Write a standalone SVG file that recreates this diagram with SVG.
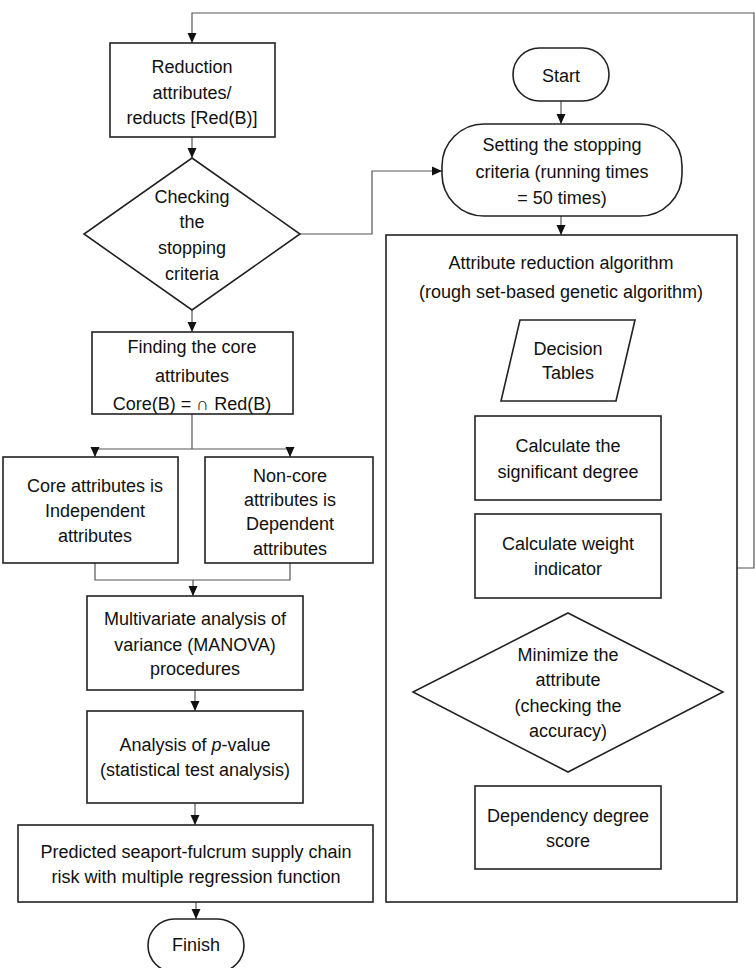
<svg xmlns="http://www.w3.org/2000/svg" width="755" height="968" viewBox="0 0 755 968">
<style>
.s{fill:#fff;stroke:#222;stroke-width:1.6}
.c{fill:none;stroke:#555;stroke-width:1.2}
text{font-family:"Liberation Sans",Arial,sans-serif;font-size:18px;fill:#111;text-anchor:middle;dominant-baseline:central}
</style>
<defs>
<marker id="ah" markerUnits="userSpaceOnUse" markerWidth="10" markerHeight="10" refX="10" refY="5" orient="auto">
<path d="M0,0.5 L10,5 L0,9.5 z" fill="#111"/>
</marker>
</defs>
<rect width="755" height="968" fill="#fff"/>
<g id="connectors">
<path class="c" d="M737,568 H754 V13 H192 V43" marker-end="url(#ah)"/>
<path class="c" d="M192,137 V158" marker-end="url(#ah)"/>
<path class="c" d="M300,234 H372 V171 H442" marker-end="url(#ah)"/>
<path class="c" d="M561,101 V124" marker-end="url(#ah)"/>
<path class="c" d="M561,216 V235" marker-end="url(#ah)"/>
<path class="c" d="M568,401 V416" marker-end="url(#ah)"/>
<path class="c" d="M568,500 V514" marker-end="url(#ah)"/>
<path class="c" d="M568,598 V613" marker-end="url(#ah)"/>
<path class="c" d="M413,692 H402 V458 H475" marker-end="url(#ah)"/>
<path class="c" d="M568,772 V786" marker-end="url(#ah)"/>
<path class="c" d="M192,310 V332" marker-end="url(#ah)"/>
<path class="c" d="M192,414 V449 M95,449 H290"/>
<path class="c" d="M95,449 V457" marker-end="url(#ah)"/>
<path class="c" d="M290,449 V457" marker-end="url(#ah)"/>
<path class="c" d="M95,563 V580 H290 V563"/>
<path class="c" d="M193,580 V596" marker-end="url(#ah)"/>
<path class="c" d="M195,690 V711" marker-end="url(#ah)"/>
<path class="c" d="M195,803 V825" marker-end="url(#ah)"/>
<path class="c" d="M196,902 V919" marker-end="url(#ah)"/>
</g>
<g id="reduction">
<rect class="s" x="110" y="43" width="165" height="94"/>
<text x="192" y="67">Reduction</text>
<text x="192" y="93">attributes/</text>
<text x="192" y="118">reducts [Red(B)]</text>
</g>
<g id="check-stop">
<polygon class="s" points="192,158 300,234 192,310 84,234"/>
<text x="192" y="197">Checking</text>
<text x="192" y="222">the</text>
<text x="192" y="248">stopping</text>
<text x="192" y="274">criteria</text>
</g>
<g id="start">
<rect class="s" x="513" y="48" width="96" height="53" rx="26.5"/>
<text x="561" y="76">Start</text>
</g>
<g id="setting">
<rect class="s" x="442" y="124" width="240" height="92" rx="42"/>
<text x="562" y="145">Setting the stopping</text>
<text x="562" y="172">criteria (running times</text>
<text x="562" y="198">= 50 times)</text>
</g>
<g id="algorithm">
<rect class="s" x="386" y="235" width="351" height="667"/>
<text x="561" y="263">Attribute reduction algorithm</text>
<text x="561" y="292">(rough set-based genetic algorithm)</text>
</g>
<g id="decision-tables">
<polygon class="s" points="520,320 635,320 616,401 501,401"/>
<text x="568" y="349">Decision</text>
<text x="568" y="373">Tables</text>
</g>
<g id="calc-sig">
<rect class="s" x="475" y="416" width="186" height="84"/>
<text x="568" y="446">Calculate the</text>
<text x="568" y="472">significant degree</text>
</g>
<g id="calc-weight">
<rect class="s" x="475" y="514" width="186" height="84"/>
<text x="568" y="544">Calculate weight</text>
<text x="568" y="569">indicator</text>
</g>
<g id="minimize">
<polygon class="s" points="568,613 723,692 568,772 413,692"/>
<text x="568" y="655">Minimize the</text>
<text x="568" y="680">attribute</text>
<text x="568" y="706">(checking the</text>
<text x="568" y="731">accuracy)</text>
</g>
<g id="dependency">
<rect class="s" x="475" y="786" width="186" height="83"/>
<text x="568" y="816">Dependency degree</text>
<text x="568" y="841">score</text>
</g>
<g id="finding-core">
<rect class="s" x="92" y="332" width="201" height="82"/>
<text x="192" y="347">Finding the core</text>
<text x="192" y="376">attributes</text>
<text x="192" y="404">Core(B) = ∩ Red(B)</text>
</g>
<g id="core-independent">
<rect class="s" x="3" y="457" width="175" height="106"/>
<text x="95" y="486">Core attributes is</text>
<text x="95" y="511">Independent</text>
<text x="95" y="536">attributes</text>
</g>
<g id="noncore-dependent">
<rect class="s" x="205" y="457" width="168" height="106"/>
<text x="290" y="476">Non-core</text>
<text x="290" y="500">attributes is</text>
<text x="290" y="524">Dependent</text>
<text x="290" y="549">attributes</text>
</g>
<g id="manova">
<rect class="s" x="87" y="596" width="216" height="94"/>
<text x="195" y="619">Multivariate analysis of</text>
<text x="195" y="645">variance (MANOVA)</text>
<text x="195" y="669">procedures</text>
</g>
<g id="pvalue">
<rect class="s" x="87" y="711" width="216" height="92"/>
<text x="195" y="745">Analysis of <tspan font-style="italic">p</tspan>-value</text>
<text x="195" y="770">(statistical test analysis)</text>
</g>
<g id="predicted">
<rect class="s" x="18" y="825" width="355" height="77"/>
<text x="196" y="852">Predicted seaport-fulcrum supply chain</text>
<text x="196" y="877">risk with multiple regression function</text>
</g>
<g id="finish">
<rect class="s" x="148" y="919" width="96" height="53" rx="26.5"/>
<text x="196" y="945">Finish</text>
</g>
</svg>
